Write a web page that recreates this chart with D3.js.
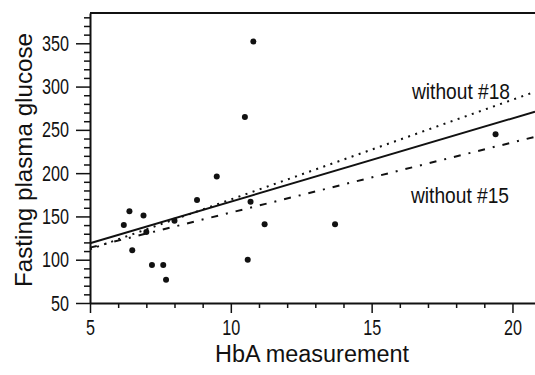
<!DOCTYPE html>
<html>
<head>
<meta charset="utf-8">
<script src="https://cdn.jsdelivr.net/npm/d3@7"></script>
<style>
  body { margin: 0; background: #fff; }
  svg { display: block; }
  text { font-family: "Liberation Sans", Arial, sans-serif; fill: #111; }
</style>
</head>
<body>
<div id="chart"></div>
<script>
// HbA vs fasting plasma glucose
var hba     = [6.2, 6.4, 6.9, 6.5, 7.0, 7.2, 7.6, 7.7, 8.0, 8.8, 9.5, 10.5, 10.8, 10.7, 10.6, 11.2, 13.7, 19.4];
var glucose = [140, 156, 151, 111, 132, 94, 94, 77, 145, 169, 196, 265, 352, 167, 100, 141, 141, 245];

// fitted lines, value at each end of the x range
var fitX     = [5, 20.8];
var fitAll   = [119, 271];
var fitNo18  = [112, 294];
var fitNo15  = [114, 242];

var xTicks = [5, 10, 15, 20];
var yTicks = [50, 100, 150, 200, 250, 300, 350];

var width = 535, height = 375;

var x = d3.scaleLinear().domain([5, 20.8]).range([90, 535]);
var y = d3.scaleLinear().domain([50, 385]).range([303, 13]);

var svg = d3.select("#chart").append("svg")
    .attr("width", width)
    .attr("height", height);

svg.append("rect").attr("width", width).attr("height", height).attr("fill", "#fff");

// minor ticks
var yMinor = d3.range(60, 385, 10).filter(function (v) { return v % 50 !== 0; });
var xMinor = d3.range(6, 21, 1).filter(function (v) { return v % 5 !== 0; });

svg.append("g")
    .attr("transform", "translate(90,0)")
    .call(d3.axisLeft(y).tickValues(yMinor).tickSize(6).tickFormat(""))
    .call(function (g) { g.select(".domain").remove(); });

svg.append("g")
    .attr("transform", "translate(0,303)")
    .call(d3.axisBottom(x).tickValues(xMinor).tickSize(5).tickFormat(""))
    .call(function (g) { g.select(".domain").remove(); });

// major axes
var yAxis = svg.append("g")
    .attr("transform", "translate(90,0)")
    .call(d3.axisLeft(y).tickValues(yTicks).tickSize(14).tickSizeOuter(0).tickPadding(7));

var xAxis = svg.append("g")
    .attr("transform", "translate(0,303)")
    .call(d3.axisBottom(x).tickValues(xTicks).tickSize(10).tickSizeOuter(0).tickPadding(4));

svg.selectAll(".tick line").attr("stroke", "#111").attr("stroke-width", 1.5);
svg.selectAll(".domain").attr("stroke", "#111").attr("stroke-width", 2);

// the scan uses a condensed face: squeeze the digits
function squeeze(sel) {
    sel.attr("font-size", 22).attr("font-family", null)
        .attr("lengthAdjust", "spacingAndGlyphs")
        .attr("textLength", function () { return this.textContent.length * 9; });
}
yAxis.selectAll("text").call(squeeze);
xAxis.selectAll("text").call(squeeze).attr("dy", "0.8em");

// top frame line
svg.append("line")
    .attr("x1", x(5)).attr("x2", x(20.8))
    .attr("y1", y(385)).attr("y2", y(385))
    .attr("stroke", "#111").attr("stroke-width", 2);

// fit lines
var line = d3.line()
    .x(function (d) { return x(d[0]); })
    .y(function (d) { return y(d[1]); });

var fits = [
    { vals: fitAll,  dash: null,      w: 2 },
    { vals: fitNo18, dash: "2,5.5",   w: 2 },
    { vals: fitNo15, dash: "7,8,2,8", w: 2 }
];

svg.selectAll(".fit")
    .data(fits)
    .enter().append("path")
    .attr("class", "fit")
    .attr("d", function (f) { return line(d3.zip(fitX, f.vals)); })
    .attr("fill", "none")
    .attr("stroke", "#111")
    .attr("stroke-width", function (f) { return f.w; })
    .attr("stroke-dasharray", function (f) { return f.dash; });

// points
svg.selectAll(".pt")
    .data(d3.zip(hba, glucose))
    .enter().append("circle")
    .attr("class", "pt")
    .attr("cx", function (d) { return x(d[0]); })
    .attr("cy", function (d) { return y(d[1]); })
    .attr("r", 3)
    .attr("fill", "#111");

// labels
svg.append("text")
    .attr("x", 412).attr("y", 99)
    .attr("font-size", 22)
    .attr("textLength", 98).attr("lengthAdjust", "spacingAndGlyphs")
    .text("without #18");

svg.append("text")
    .attr("x", 411).attr("y", 203)
    .attr("font-size", 22)
    .attr("textLength", 98).attr("lengthAdjust", "spacingAndGlyphs")
    .text("without #15");

svg.append("text")
    .attr("x", 312).attr("y", 362)
    .attr("text-anchor", "middle")
    .attr("font-size", 23)
    .attr("textLength", 194).attr("lengthAdjust", "spacingAndGlyphs")
    .text("HbA measurement");

svg.append("text")
    .attr("transform", "translate(32,160) rotate(-90)")
    .attr("text-anchor", "middle")
    .attr("font-size", 24)
    .attr("textLength", 254).attr("lengthAdjust", "spacingAndGlyphs")
    .text("Fasting plasma glucose");
</script>
</body>
</html>
